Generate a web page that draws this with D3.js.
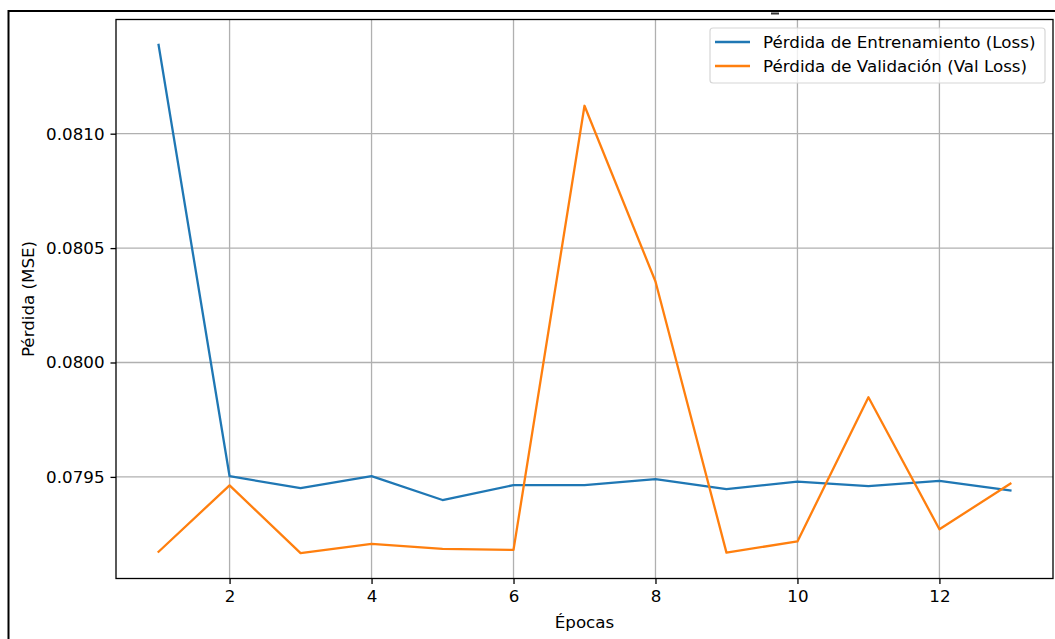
<!DOCTYPE html>
<html><head><meta charset="utf-8">
<script src="https://cdn.jsdelivr.net/npm/d3@7"></script>
<style>body{margin:0;background:#fff}svg{display:block;font-family:"DejaVu Sans",sans-serif}</style>
</head><body>
<script>
const epochs = [1,2,3,4,5,6,7,8,9,10,11,12,13];
const trainLoss = [0.081388,0.079503,0.079451,0.079503,0.079399,0.079464,0.079464,0.079490,0.079447,0.079479,0.079460,0.079483,0.079441];
const valLoss = [0.079173,0.079463,0.079167,0.079207,0.079185,0.079181,0.081122,0.080354,0.079169,0.079218,0.079848,0.079271,0.079471];
const xTicks = [2,4,6,8,10,12];
const yTicks = [0.0795,0.0800,0.0805,0.0810];
const seriesNames = ["Pérdida de Entrenamiento (Loss)","Pérdida de Validación (Val Loss)"];
const colors = ["#1f77b4","#ff7f0e"];

const W=1055,H=639;
const L=116,R=1053,T=19.5,B=578.5;
const FS="16.7px";
const svg=d3.select("body").append("svg").attr("width",W).attr("height",H);

// outer frame
svg.append("line").attr("x1",8).attr("x2",W).attr("y1",11).attr("y2",11).attr("stroke","#000").attr("stroke-width",2);
svg.append("line").attr("x1",8.5).attr("x2",8.5).attr("y1",10).attr("y2",H).attr("stroke","#000").attr("stroke-width",2);
svg.append("rect").attr("x",771).attr("y",12.5).attr("width",8).attr("height",2).attr("fill","#333");

const xm=(13-1)*0.05;
const x=d3.scaleLinear().domain([1-xm,13+xm]).range([L,R]);
const all=trainLoss.concat(valLoss);
const ymin=d3.min(all),ymax=d3.max(all),ym=(ymax-ymin)*0.05;
const y=d3.scaleLinear().domain([ymin-ym,ymax+ym]).range([B,T]);

// grid
const g=svg.append("g");
g.selectAll(".gx").data(xTicks).join("line").attr("x1",d=>x(d)).attr("x2",d=>x(d)).attr("y1",T).attr("y2",B).attr("stroke","#b0b0b0").attr("stroke-width",1.3);
g.selectAll(".gy").data(yTicks).join("line").attr("y1",d=>y(d)).attr("y2",d=>y(d)).attr("x1",L).attr("x2",R).attr("stroke","#b0b0b0").attr("stroke-width",1.3);

// axes
const xAxis=d3.axisBottom(x).tickValues(xTicks).tickSize(5.5).tickPadding(6).tickFormat(d3.format("d"));
const yAxis=d3.axisLeft(y).tickValues(yTicks).tickSize(5.5).tickPadding(6).tickFormat(d3.format(".4f"));
const ax=svg.append("g").attr("transform",`translate(0,${B})`).call(xAxis);
const ay=svg.append("g").attr("transform",`translate(${L},0)`).call(yAxis);
[ax,ay].forEach(a=>{a.select(".domain").remove();a.selectAll("line").attr("stroke","#000").attr("stroke-width",1.3);a.selectAll("text").attr("font-size",FS).attr("fill","#000").attr("font-family","DejaVu Sans");});

// lines
const line=d3.line().x((d,i)=>x(epochs[i])).y(d=>y(d));
[trainLoss,valLoss].forEach((s,i)=>{
  svg.append("path").datum(s).attr("d",line).attr("fill","none").attr("stroke",colors[i]).attr("stroke-width",2.3).attr("stroke-linejoin","round").attr("stroke-linecap","square");
});

// spines
svg.append("rect").attr("x",L).attr("y",T).attr("width",R-L).attr("height",B-T).attr("fill","none").attr("stroke","#000").attr("stroke-width",1.3);

// labels
svg.append("text").attr("x",(L+R)/2).attr("y",628).attr("text-anchor","middle").attr("font-size",FS).text("Épocas");
svg.append("text").attr("transform",`translate(34,${(T+B)/2}) rotate(-90)`).attr("text-anchor","middle").attr("font-size",FS).text("Pérdida (MSE)");

// legend
const lg=svg.append("g");
lg.append("rect").attr("x",710).attr("y",28).attr("width",335).attr("height",55).attr("rx",3).attr("fill","#fff").attr("fill-opacity",0.8).attr("stroke","#d6d6d6").attr("stroke-width",1.2);
seriesNames.forEach((n,i)=>{
  const yy=42+i*24;
  lg.append("line").attr("x1",715).attr("x2",750).attr("y1",yy).attr("y2",yy).attr("stroke",colors[i]).attr("stroke-width",2.3);
  lg.append("text").attr("x",763).attr("y",yy+6).attr("font-size",FS).text(n);
});
</script>
</body></html>
